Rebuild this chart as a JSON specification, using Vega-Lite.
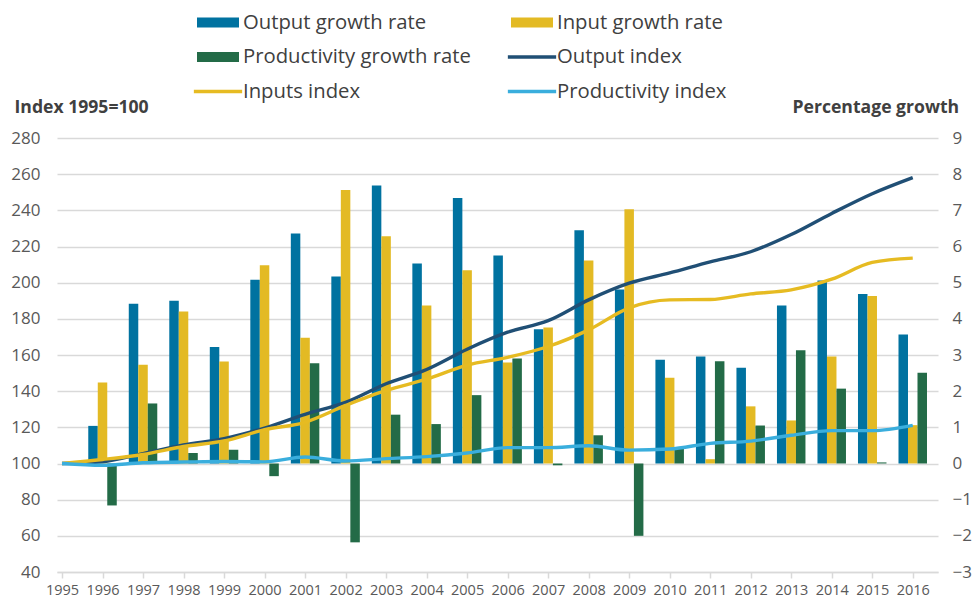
{
  "$schema": "https://vega.github.io/schema/vega-lite/v6.json",
  "width": 881,
  "height": 434,
  "autosize": {"type": "none"},
  "padding": {"left": 57, "top": 138, "right": 35, "bottom": 32},
  "background": "#ffffff",
  "config": {
    "view": {"stroke": null},
    "font": "Open Sans",
    "axis": {"labelFont": "Open Sans", "titleFont": "Open Sans", "domain": false, "ticks": false, "grid": false, "labelColor": "#595959", "titleColor": "#404040"}
  },
  "data": {
    "values": [
      {"year": 1995, "og": null, "ig": null, "pg": null, "oi": 100, "ii": 100, "pi": 100},
      {"year": 1996, "og": 1.04, "ig": 2.24, "pg": -1.16, "oi": 101.0, "ii": 102.2, "pi": 99.0},
      {"year": 1997, "og": 4.42, "ig": 2.73, "pg": 1.66, "oi": 105.5, "ii": 105.0, "pi": 100.4},
      {"year": 1998, "og": 4.50, "ig": 4.20, "pg": 0.29, "oi": 110.3, "ii": 109.4, "pi": 100.8},
      {"year": 1999, "og": 3.22, "ig": 2.82, "pg": 0.38, "oi": 113.8, "ii": 112.5, "pi": 101.1},
      {"year": 2000, "og": 5.08, "ig": 5.48, "pg": -0.35, "oi": 119.6, "ii": 118.7, "pi": 100.9},
      {"year": 2001, "og": 6.36, "ig": 3.48, "pg": 2.77, "oi": 127.2, "ii": 122.8, "pi": 103.6},
      {"year": 2002, "og": 5.17, "ig": 7.56, "pg": -2.18, "oi": 133.8, "ii": 132.1, "pi": 101.4},
      {"year": 2003, "og": 7.69, "ig": 6.28, "pg": 1.35, "oi": 144.1, "ii": 140.4, "pi": 102.7},
      {"year": 2004, "og": 5.53, "ig": 4.37, "pg": 1.09, "oi": 152.0, "ii": 146.6, "pi": 103.8},
      {"year": 2005, "og": 7.34, "ig": 5.34, "pg": 1.89, "oi": 163.2, "ii": 154.4, "pi": 105.8},
      {"year": 2006, "og": 5.75, "ig": 2.79, "pg": 2.90, "oi": 172.6, "ii": 158.7, "pi": 108.8},
      {"year": 2007, "og": 3.71, "ig": 3.76, "pg": -0.05, "oi": 179.0, "ii": 164.7, "pi": 108.8},
      {"year": 2008, "og": 6.45, "ig": 5.61, "pg": 0.78, "oi": 190.5, "ii": 173.9, "pi": 109.8},
      {"year": 2009, "og": 4.81, "ig": 7.03, "pg": -2.00, "oi": 199.7, "ii": 186.1, "pi": 107.4},
      {"year": 2010, "og": 2.87, "ig": 2.37, "pg": 0.41, "oi": 205.4, "ii": 190.5, "pi": 108.0},
      {"year": 2011, "og": 2.96, "ig": 0.12, "pg": 2.83, "oi": 211.5, "ii": 190.7, "pi": 111.1},
      {"year": 2012, "og": 2.65, "ig": 1.58, "pg": 1.05, "oi": 217.1, "ii": 193.8, "pi": 112.4},
      {"year": 2013, "og": 4.37, "ig": 1.19, "pg": 3.13, "oi": 226.6, "ii": 196.0, "pi": 115.6},
      {"year": 2014, "og": 5.06, "ig": 2.96, "pg": 2.07, "oi": 238.3, "ii": 201.9, "pi": 118.2},
      {"year": 2015, "og": 4.69, "ig": 4.63, "pg": 0.03, "oi": 249.2, "ii": 211.2, "pi": 118.2},
      {"year": 2016, "og": 3.57, "ig": 1.06, "pg": 2.51, "oi": 258.1, "ii": 213.6, "pi": 121.1}
    ]
  },
  "encoding": {
    "x": {
      "field": "year",
      "type": "quantitative",
      "scale": {"domain": [1995, 2016.5], "nice": false, "zero": false},
      "axis": {
        "title": null,
        "values": [1995, 1996, 1997, 1998, 1999, 2000, 2001, 2002, 2003, 2004, 2005, 2006, 2007, 2008, 2009, 2010, 2011, 2012, 2013, 2014, 2015, 2016],
        "format": "d",
        "domain": true,
        "domainColor": "#d9d9d9",
        "domainWidth": 1.5,
        "ticks": true,
        "tickColor": "#d9d9d9",
        "tickWidth": 1.5,
        "tickSize": 6,
        "labelFontSize": 14.5,
        "labelPadding": 5,
        "labelFlush": false,
        "labelOverlap": false
      }
    },
    "color": {
      "type": "nominal",
      "scale": {
        "domain": ["Output growth rate", "Input growth rate", "Productivity growth rate", "Output index", "Inputs index", "Productivity index"],
        "range": ["#0072a0", "#e3ba24", "#236b47", "#204f75", "#e6bb22", "#3aaedd"]
      },
      "legend": {
        "orient": "none",
        "direction": "horizontal",
        "legendX": 140,
        "legendY": -126,
        "columns": 2,
        "title": null,
        "symbolSize": 441,
        "labelFont": "Open Sans",
        "labelFontSize": 20.3,
        "labelColor": "#404040",
        "labelOffset": 25,
        "columnPadding": 36,
        "rowPadding": 13.5,
        "labelLimit": 400,
        "encode": {
          "symbols": {
            "update": {
              "shape": {"signal": "indexof(['Output index','Inputs index','Productivity index'], datum.value) >= 0 ? 'M-1.3,-0.167H3.3V0.167H-1.3Z' : 'M-1,-0.476H3V0.476H-1Z'"},
              "fill": {"scale": "color", "field": "value"},
              "stroke": {"value": "transparent"},
              "strokeWidth": {"value": 0},
              "opacity": {"value": 1}
            }
          }
        }
      }
    }
  },
  "layer": [
    {
      "layer": [
        {
          "mark": {"type": "bar", "width": 9.5, "xOffset": -9.5},
          "encoding": {
            "y": {"field": "og", "type": "quantitative", "scale": {"domain": [-3, 9], "nice": false, "zero": false},
              "axis": {"orient": "right", "title": "Percentage growth", "values": [-3, -2, -1, 0, 1, 2, 3, 4, 5, 6, 7, 8, 9], "labelAlign": "left", "labelPadding": 14, "labelFontSize": 17, "titleAngle": 0, "titleAlign": "left", "titleBaseline": "middle", "titleX": -146, "titleY": -31, "titleFontSize": 17.6, "titleFontWeight": "bold"}},
            "y2": {"datum": 0},
            "color": {"datum": "Output growth rate"}
          }
        },
        {
          "mark": {"type": "bar", "width": 9.5, "xOffset": 0},
          "encoding": {
            "y": {"field": "ig", "type": "quantitative", "scale": {"domain": [-3, 9], "nice": false, "zero": false},
              "axis": {"orient": "right", "title": "Percentage growth", "values": [-3, -2, -1, 0, 1, 2, 3, 4, 5, 6, 7, 8, 9], "labelAlign": "left", "labelPadding": 14, "labelFontSize": 17, "titleAngle": 0, "titleAlign": "left", "titleBaseline": "middle", "titleX": -146, "titleY": -31, "titleFontSize": 17.6, "titleFontWeight": "bold"}},
            "y2": {"datum": 0},
            "color": {"datum": "Input growth rate"}
          }
        },
        {
          "mark": {"type": "bar", "width": 9.5, "xOffset": 9.5},
          "encoding": {
            "y": {"field": "pg", "type": "quantitative", "scale": {"domain": [-3, 9], "nice": false, "zero": false},
              "axis": {"orient": "right", "title": "Percentage growth", "values": [-3, -2, -1, 0, 1, 2, 3, 4, 5, 6, 7, 8, 9], "labelAlign": "left", "labelPadding": 14, "labelFontSize": 17, "titleAngle": 0, "titleAlign": "left", "titleBaseline": "middle", "titleX": -146, "titleY": -31, "titleFontSize": 17.6, "titleFontWeight": "bold"}},
            "y2": {"datum": 0},
            "color": {"datum": "Productivity growth rate"}
          }
        }
      ]
    },
    {
      "layer": [
        {
          "mark": {"type": "line", "strokeWidth": 3.4, "interpolate": "monotone"},
          "encoding": {
            "y": {"field": "oi", "type": "quantitative", "scale": {"domain": [40, 280], "nice": false, "zero": false},
              "axis": {"orient": "left", "title": "Index 1995=100", "values": [40, 60, 80, 100, 120, 140, 160, 180, 200, 220, 240, 260, 280], "grid": true, "gridColor": "#d9d9d9", "gridWidth": 1.5, "labelPadding": 17, "labelFontSize": 17, "titleAngle": 0, "titleAlign": "left", "titleBaseline": "middle", "titleX": -43, "titleY": -31, "titleFontSize": 17.6, "titleFontWeight": "bold"}},
            "color": {"datum": "Output index"}
          }
        },
        {
          "mark": {"type": "line", "strokeWidth": 3.4, "interpolate": "monotone"},
          "encoding": {
            "y": {"field": "ii", "type": "quantitative", "scale": {"domain": [40, 280], "nice": false, "zero": false},
              "axis": {"orient": "left", "title": "Index 1995=100", "values": [40, 60, 80, 100, 120, 140, 160, 180, 200, 220, 240, 260, 280], "grid": true, "gridColor": "#d9d9d9", "gridWidth": 1.5, "labelPadding": 17, "labelFontSize": 17, "titleAngle": 0, "titleAlign": "left", "titleBaseline": "middle", "titleX": -43, "titleY": -31, "titleFontSize": 17.6, "titleFontWeight": "bold"}},
            "color": {"datum": "Inputs index"}
          }
        },
        {
          "mark": {"type": "line", "strokeWidth": 3.4, "interpolate": "monotone"},
          "encoding": {
            "y": {"field": "pi", "type": "quantitative", "scale": {"domain": [40, 280], "nice": false, "zero": false},
              "axis": {"orient": "left", "title": "Index 1995=100", "values": [40, 60, 80, 100, 120, 140, 160, 180, 200, 220, 240, 260, 280], "grid": true, "gridColor": "#d9d9d9", "gridWidth": 1.5, "labelPadding": 17, "labelFontSize": 17, "titleAngle": 0, "titleAlign": "left", "titleBaseline": "middle", "titleX": -43, "titleY": -31, "titleFontSize": 17.6, "titleFontWeight": "bold"}},
            "color": {"datum": "Productivity index"}
          }
        }
      ]
    }
  ],
  "resolve": {"scale": {"y": "independent"}}
}
